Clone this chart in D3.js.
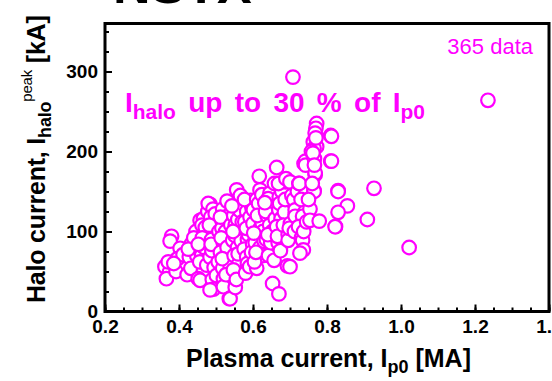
<!DOCTYPE html>
<html><head><meta charset="utf-8">
<script src="https://cdn.jsdelivr.net/npm/d3@7"></script>
<style>body{margin:0;background:#fff}svg{display:block}</style>
</head><body><svg id="c" width="552" height="381"></svg>
<script>
const xTickValues=[0.2,0.4,0.6,0.8,1.0,1.2,1.4];
const xMinorValues=d3.range(0.2,1.4001,0.05);
const yTickValues=[0,100,200,300];
const yMinorValues=d3.range(0,360.1,25);
const countLabel="365 data";
// [Ip0 (MA), I_halo peak (kA)]
const shots=[
[0.362,56],[0.374,49],[0.366,41],[0.380,94],[0.376,88],[0.371,62],[0.403,79],[0.407,56],[0.396,66],[0.411,71],[0.392,50],[0.386,60],
[0.434,85],[0.443,76],[0.439,60],[0.428,68],[0.422,46],[0.446,100],[0.440,92],[0.432,54],[0.448,70],[0.425,78],
[0.457,114],[0.466,116],[0.462,108],[0.466,50],[0.452,41],[0.470,98],[0.474,88],[0.461,70],[0.456,62],[0.478,125],[0.471,105],[0.457,39],[0.468,80],[0.475,58],[0.463,92],[0.452,84],
[0.484,134],[0.479,135],[0.492,128],[0.486,118],[0.493,102],[0.497,96],[0.488,90],[0.500,80],[0.484,68],[0.495,55],[0.490,40],[0.493,28],[0.484,27],[0.503,110],[0.498,122],[0.489,76],[0.506,62],[0.482,108],[0.501,45],[0.487,84],[0.508,100],
[0.518,128],[0.522,112],[0.516,104],[0.528,95],[0.520,85],[0.512,74],[0.525,64],[0.518,54],[0.520,41],[0.520,31],[0.530,138],[0.534,120],[0.526,100],[0.536,88],[0.514,92],[0.532,72],[0.538,58],[0.527,46],[0.536,16],[0.512,118],[0.530,80],[0.540,108],[0.517,66],
[0.556,152],[0.561,135],[0.548,120],[0.552,108],[0.574,102],[0.545,89],[0.558,80],[0.549,70],[0.562,60],[0.569,48],[0.538,16],[0.552,30],[0.566,145],[0.559,115],[0.551,95],[0.565,126],[0.543,132],[0.568,88],[0.547,52],[0.560,72],[0.555,40],[0.571,112],[0.546,100],
[0.594,139],[0.583,125],[0.578,112],[0.590,102],[0.585,90],[0.576,78],[0.583,68],[0.585,60],[0.580,48],[0.597,130],[0.592,118],[0.588,96],[0.599,84],[0.577,140],[0.596,74],[0.582,104],[0.591,56],[0.600,110],
[0.617,169],[0.619,152],[0.610,140],[0.601,127],[0.622,115],[0.619,104],[0.619,94],[0.606,86],[0.619,80],[0.627,70],[0.610,54],[0.604,62],[0.615,135],[0.625,110],[0.627,100],[0.612,120],[0.630,88],[0.608,74],[0.624,146],[0.602,98],
[0.646,148],[0.641,141],[0.650,131],[0.638,120],[0.645,108],[0.652,100],[0.636,90],[0.655,79],[0.642,70],[0.653,35],[0.658,160],[0.634,125],[0.660,116],[0.648,86],[0.640,96],[0.657,64],[0.632,136],
[0.664,180],[0.671,143],[0.670,127],[0.676,116],[0.664,106],[0.680,96],[0.668,86],[0.670,22],[0.678,150],[0.672,135],[0.688,162],[0.685,124],[0.666,94],[0.682,108],[0.674,76],[0.687,140],[0.669,160],
[0.708,293],[0.689,166],[0.700,162],[0.716,130],[0.714,121],[0.701,110],[0.695,96],[0.695,89],[0.693,57],[0.705,145],[0.710,140],[0.714,127],[0.714,119],[0.700,56],[0.698,104],[0.712,100],[0.720,150],
[0.738,185],[0.724,160],[0.741,125],[0.734,119],[0.723,106],[0.731,92],[0.734,89],[0.736,77],[0.727,73],[0.742,188],[0.742,183],[0.744,150],[0.725,160],[0.737,100],[0.730,140],[0.745,112],
[0.772,235],[0.770,229],[0.768,223],[0.763,212],[0.772,206],[0.761,201],[0.766,191],[0.765,204],[0.758,200],[0.762,198],[0.768,171],[0.768,173],[0.765,151],[0.765,150],[0.754,128],[0.754,114],[0.760,160],[0.750,140],[0.766,183],[0.770,217],
[0.779,113],
[0.810,220],[0.812,219],[0.810,188],[0.812,188],[0.830,151],[0.830,150],[0.855,132],[0.830,124],[0.823,106],[0.822,106],
[0.927,154],[0.909,115],[1.022,80],[1.235,264]
];

const MAG="#ff00ff";
const svg=d3.select("#c");
svg.append("rect").attr("width",552).attr("height",381).attr("fill","#fff");
const x=d3.scaleLinear().domain([0.2,1.4]).range([105,549]);
const y=d3.scaleLinear().domain([0,360]).range([311.5,23.5]);
const FONT="'Liberation Sans', Arial, sans-serif";

// clipped title fragment at the very top
svg.append("text").attr("x",113).attr("y",3).attr("font-family",FONT).attr("font-weight","bold")
  .attr("font-size",52).attr("fill","#000").text("NSTX");

// points
const g=svg.append("g");
g.selectAll("circle").data(shots).join("circle")
  .attr("cx",d=>x(d[0])).attr("cy",d=>y(d[1])).attr("r",6.8)
  .attr("fill","#fff").attr("stroke",MAG).attr("stroke-width",2.2);

// axes (inward ticks)
function styleAxis(sel){
  sel.select(".domain").remove();
  sel.selectAll("line").attr("stroke","#000").attr("stroke-width",2);
  sel.selectAll("text").attr("font-family",FONT).attr("font-weight","bold").attr("font-size",19).attr("fill","#000");
}
svg.append("g").attr("transform","translate(0,311.5)")
  .call(d3.axisBottom(x).tickValues(xMinorValues).tickSize(-4).tickFormat(""))
  .call(styleAxis);
svg.append("g").attr("transform","translate(0,311.5)")
  .call(d3.axisBottom(x).tickValues(xTickValues).tickSize(-7).tickPadding(8).tickFormat(d3.format(".1f")))
  .call(styleAxis);
svg.append("g").attr("transform","translate(105,0)")
  .call(d3.axisLeft(y).tickValues(yMinorValues).tickSize(-4).tickFormat(""))
  .call(styleAxis);
svg.append("g").attr("transform","translate(105,0)")
  .call(d3.axisLeft(y).tickValues(yTickValues).tickSize(-7).tickPadding(7).tickFormat(d3.format("d")))
  .call(styleAxis);

// frame
svg.append("rect").attr("x",105).attr("y",23.5).attr("width",444).attr("height",288)
  .attr("fill","none").attr("stroke","#000").attr("stroke-width",3);

// x label
const xl=svg.append("text").attr("x",186).attr("y",367).attr("font-family",FONT).attr("font-weight","bold")
  .attr("font-size",25).attr("letter-spacing",0).attr("fill","#000");
xl.append("tspan").text("Plasma current, I");
xl.append("tspan").attr("font-size",18).attr("dy",6).text("p0");
xl.append("tspan").attr("dy",-6).text(" [MA]");

// y label
const yl=svg.append("text").attr("transform","translate(45,303) rotate(-90)").attr("font-family",FONT)
  .attr("font-weight","bold").attr("font-size",25).attr("letter-spacing",-0.2).attr("fill","#000");
yl.append("tspan").text("Halo current, I");
yl.append("tspan").attr("font-size",18).attr("dy",6).text("halo");
yl.append("tspan").attr("font-size",15).attr("font-weight","normal").attr("dy",-19).text("peak");
yl.append("tspan").attr("dy",13).text(" [kA]");

// annotations
svg.append("text").attr("x",533).attr("y",54).attr("text-anchor","end").attr("font-family",FONT)
  .attr("font-size",22).attr("fill",MAG).text(countLabel);
const an=svg.append("text").attr("x",125).attr("y",112).attr("font-family",FONT).attr("font-weight","bold")
  .attr("font-size",28).attr("word-spacing",4.5).attr("fill",MAG);
an.append("tspan").text("I");
an.append("tspan").attr("font-size",21).attr("dy",7).text("halo");
an.append("tspan").attr("dy",-7).text(" up to 30 % of I");
an.append("tspan").attr("font-size",21).attr("dy",7).text("p0");
</script></body></html>
